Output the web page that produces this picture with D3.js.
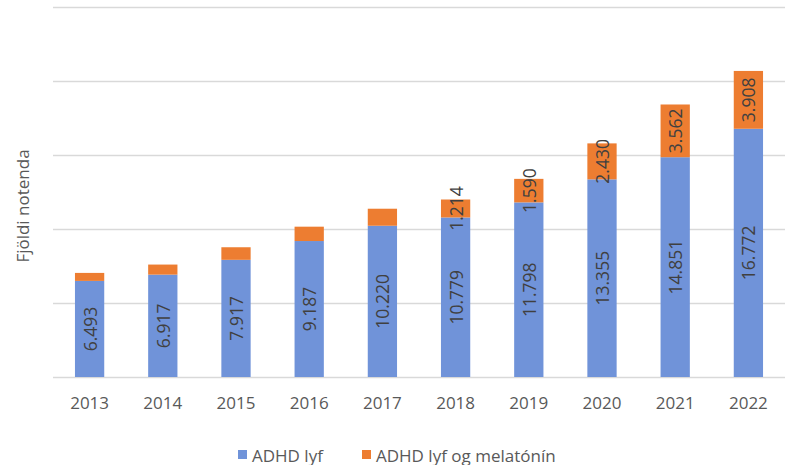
<!DOCTYPE html>
<html lang="is">
<head>
<meta charset="utf-8">
<title>ADHD lyf</title>
<script src="https://cdn.jsdelivr.net/npm/d3@7"></script>
<style>
  body { margin: 0; background: #fff; }
  svg { font-family: "Open Sans", sans-serif; }
  .grid line { stroke: #d9d9d9; stroke-width: 1.3px; }
  .grid path { display: none; }
  .xaxis path, .xaxis line { display: none; }
  .xaxis text { fill: #595959; font-size: 17px; font-family: "Open Sans", sans-serif; }
  .lbl { fill: #404040; font-size: 17.5px; }
</style>
</head>
<body>
<script>
var years = ['2013','2014','2015','2016','2017','2018','2019','2020','2021','2022'];
var adhd = [6493, 6917, 7917, 9187, 10220, 10779, 11798, 13355, 14851, 16772];
var adhdMel = [540, 680, 850, 970, 1150, 1214, 1590, 2430, 3562, 3908];
var showMelLabel = [false, false, false, false, false, true, true, true, true, true];
var yTicks = [0, 5000, 10000, 15000, 20000, 25000];
var seriesNames = ['ADHD lyf', 'ADHD lyf og melatónín'];
var colors = ['#7093d9', '#ed7d31'];

var width = 786, height = 465;
var margin = {top: 7, right: 1, bottom: 88, left: 53};

var svg = d3.select('body').append('svg')
    .attr('width', width)
    .attr('height', height);

var x = d3.scaleBand()
    .domain(years)
    .range([margin.left, width - margin.right])
    .paddingInner(0.6)
    .paddingOuter(0.3);

var y = d3.scaleLinear()
    .domain([0, 25000])
    .range([height - margin.bottom, margin.top]);

svg.append('g')
    .attr('class', 'grid')
    .attr('transform', 'translate(' + margin.left + ',0)')
    .call(d3.axisLeft(y).tickValues(yTicks).tickSize(-(width - margin.left - margin.right)).tickFormat(''));

var fmt = function(v) { return d3.format(',')(v).replace(/,/g, '.'); };

var rows = years.map(function(yr, i) {
    return {year: yr, a: adhd[i], m: adhdMel[i], show: showMelLabel[i]};
});

var bars = svg.append('g');
bars.selectAll('rect.a')
    .data(rows).enter().append('rect')
    .attr('x', function(d) { return x(d.year); })
    .attr('width', x.bandwidth())
    .attr('y', function(d) { return y(d.a); })
    .attr('height', function(d) { return y(0) - y(d.a); })
    .attr('fill', colors[0]);

bars.selectAll('rect.m')
    .data(rows).enter().append('rect')
    .attr('x', function(d) { return x(d.year); })
    .attr('width', x.bandwidth())
    .attr('y', function(d) { return y(d.a + d.m); })
    .attr('height', function(d) { return y(d.a) - y(d.a + d.m); })
    .attr('fill', colors[1]);

// labels, rotated and centred in each segment
svg.append('g').selectAll('text')
    .data(rows).enter().append('text')
    .attr('class', 'lbl')
    .attr('text-anchor', 'middle')
    .attr('dominant-baseline', 'central')
    .attr('transform', function(d) {
        return 'translate(' + (x(d.year) + x.bandwidth() / 2) + ',' + ((y(0) + y(d.a)) / 2) + ') rotate(-90)';
    })
    .text(function(d) { return fmt(d.a); });

svg.append('g').selectAll('text')
    .data(rows.filter(function(d) { return d.show; })).enter().append('text')
    .attr('class', 'lbl')
    .attr('text-anchor', 'middle')
    .attr('dominant-baseline', 'central')
    .attr('transform', function(d) {
        return 'translate(' + (x(d.year) + x.bandwidth() / 2) + ',' + ((y(d.a) + y(d.a + d.m)) / 2) + ') rotate(-90)';
    })
    .text(function(d) { return fmt(d.m); });

svg.append('g')
    .attr('class', 'xaxis')
    .attr('transform', 'translate(0,' + y(0) + ')')
    .call(d3.axisBottom(x).tickSize(0).tickPadding(20));

svg.append('text')
    .attr('transform', 'translate(22,206) rotate(-90)')
    .attr('text-anchor', 'middle')
    .attr('dominant-baseline', 'central')
    .attr('fill', '#595959')
    .style('font-size', '17px')
    .text('Fjöldi notenda');

// legend
var legendX = [238, 362];
var legend = svg.append('g');
seriesNames.forEach(function(name, i) {
    legend.append('rect')
        .attr('x', legendX[i])
        .attr('y', 450)
        .attr('width', 9)
        .attr('height', 9)
        .attr('fill', colors[i]);
    legend.append('text')
        .attr('x', legendX[i] + 14)
        .attr('y', 455)
        .attr('dominant-baseline', 'central')
        .attr('fill', '#595959')
        .style('font-size', '17px')
        .text(name);
});
</script>
</body>
</html>
